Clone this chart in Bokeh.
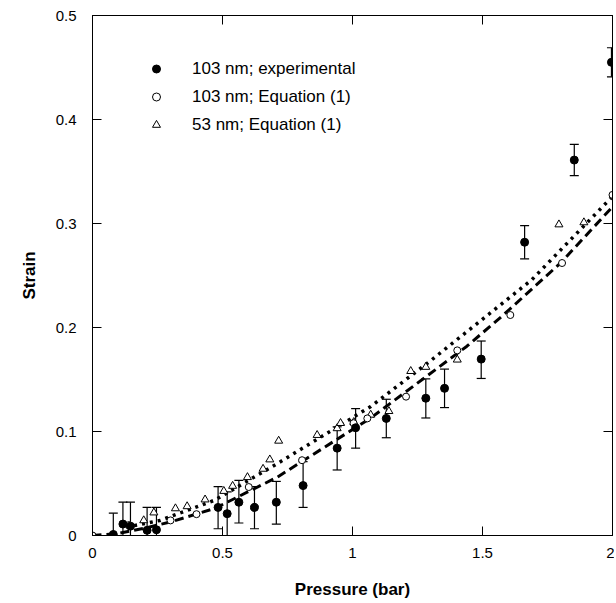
from bokeh.plotting import figure
from bokeh.models import (LinearAxis, FixedTicker, Whisker, ColumnDataSource,
                          Legend, LegendItem, Range1d, TeeHead)
from bokeh.embed import file_html
from bokeh.resources import INLINE

# ---- data ----
x_ticks = [0, 0.5, 1, 1.5, 2]
x_tick_labels = ["0", "0.5", "1", "1.5", "2"]
y_ticks = [0, 0.1, 0.2, 0.3, 0.4, 0.5]
y_tick_labels = ["0", "0.1", "0.2", "0.3", "0.4", "0.5"]

exp_x = [0.08, 0.117, 0.146, 0.21, 0.246, 0.483, 0.518, 0.563, 0.623, 0.707,
         0.81, 0.941, 1.012, 1.13, 1.282, 1.354, 1.495, 1.662, 1.853, 1.996]
exp_y = [0.001, 0.011, 0.009, 0.005, 0.0055, 0.027, 0.021, 0.032, 0.027, 0.032,
         0.048, 0.084, 0.1036, 0.1126, 0.132, 0.1415, 0.1696, 0.282, 0.361, 0.455]
exp_lo = [0.0, 0.0, 0.0, 0.0, 0.0, 0.0065, 0.0, 0.012, 0.0065, 0.011,
          0.027, 0.063, 0.084, 0.094, 0.113, 0.123, 0.151, 0.266, 0.346, 0.441]
exp_hi = [0.0215, 0.032, 0.032, 0.027, 0.027, 0.047, 0.042, 0.053, 0.047, 0.052,
          0.071, 0.1045, 0.122, 0.131, 0.1506, 0.16, 0.187, 0.298, 0.376, 0.469]

eq103_x = [0.0, 0.14, 0.30, 0.40, 0.601, 0.806, 1.004, 1.057, 1.206, 1.403,
           1.607, 1.806, 2.0]
eq103_y = [0.0, 0.010, 0.0145, 0.0205, 0.0466, 0.0724, 0.108, 0.1126, 0.1335,
           0.178, 0.212, 0.262, 0.3275]

eq53_x = [0.078, 0.197, 0.236, 0.319, 0.364, 0.433, 0.505, 0.539, 0.596, 0.656,
          0.682, 0.716, 0.864, 0.941, 0.954, 1.005, 1.07, 1.14, 1.224, 1.282,
          1.403, 1.794, 1.89]
eq53_y = [0.0, 0.0145, 0.022, 0.026, 0.028, 0.0345, 0.0427, 0.0476, 0.056, 0.064,
          0.073, 0.091, 0.0965, 0.103, 0.108, 0.109, 0.116, 0.1195, 0.158, 0.162,
          0.169, 0.299, 0.301]

dash_x = [0, 0.1, 0.2, 0.3, 0.47, 0.71, 1.07, 1.44, 1.58, 1.8, 2.0]
dash_y = [0, 0.002, 0.007, 0.013, 0.026, 0.056, 0.113, 0.182, 0.212, 0.262, 0.316]

dot_x = [0.13, 0.26, 0.47, 0.71, 1.07, 1.3, 1.44, 1.69, 2.0]
dot_y = [0.008, 0.0145, 0.034, 0.069, 0.124, 0.168, 0.196, 0.246, 0.326]

legend_labels = ["103 nm; experimental", "103 nm; Equation (1)", "53 nm; Equation (1)"]

FONT = "Liberation Sans"

p = figure(width=614, height=601, x_range=Range1d(0, 2), y_range=Range1d(0, 0.5),
           output_backend="svg", toolbar_location=None,
           min_border_left=92, min_border_right=2, min_border_top=15,
           min_border_bottom=66)
p.grid.visible = False
p.outline_line_color = "black"
p.background_fill_color = "white"
p.border_fill_color = "white"

def style_axis(ax, ticks, labels, standoff, show_labels=True):
    ax.ticker = FixedTicker(ticks=ticks)
    ax.major_tick_in = 9
    ax.major_tick_out = 0
    ax.minor_tick_line_color = None
    ax.axis_line_color = "black"
    ax.major_tick_line_color = "black"
    if show_labels:
        ax.major_label_overrides = {t: l for t, l in zip(ticks, labels)}
        ax.major_label_text_font = FONT
        ax.major_label_text_color = "black"
        ax.major_label_standoff = standoff
        ax.major_label_text_font_size = "15px"
    else:
        ax.major_label_text_color = None
        ax.major_label_text_font_size = "1px"
        ax.major_label_standoff = 0

xa = p.xaxis[0]
ya = p.yaxis[0]
style_axis(xa, x_ticks, x_tick_labels, 12)
style_axis(ya, y_ticks, y_tick_labels, 16)
xa.axis_label = "Pressure (bar)"
ya.axis_label = "Strain"
for ax, so in ((xa, 19), (ya, 14)):
    ax.axis_label_text_font = FONT
    ax.axis_label_text_font_style = "bold"
    ax.axis_label_text_font_size = "17px"
    ax.axis_label_text_color = "black"
    ax.axis_label_standoff = so

top_ax = LinearAxis()
style_axis(top_ax, x_ticks, x_tick_labels, 0, show_labels=False)
right_ax = LinearAxis()
style_axis(right_ax, y_ticks, y_tick_labels, 0, show_labels=False)
p.add_layout(top_ax, "above")
p.add_layout(right_ax, "right")

# curves
p.line(dash_x, dash_y, line_color="black", line_width=3, line_dash="9 5")
p.line(dot_x, dot_y, line_color="black", line_width=3.5, line_dash="3 5")

# error bars
src = ColumnDataSource(dict(x=exp_x, y=exp_y, lo=exp_lo, hi=exp_hi))
wh = Whisker(source=src, base="x", lower="lo", upper="hi", dimension="height",
             line_color="black", line_width=1.2,
             upper_head=TeeHead(size=9, line_color="black", line_width=1.2),
             lower_head=TeeHead(size=9, line_color="black", line_width=1.2))
p.add_layout(wh)

r53 = p.scatter(eq53_x, eq53_y, marker="triangle", size=8, fill_color="white",
                line_color="black", line_width=1)
r103 = p.scatter(eq103_x, eq103_y, marker="circle", size=7, fill_color="white",
                 line_color="black", line_width=1)
rexp = p.scatter(exp_x, exp_y, marker="circle", size=8, fill_color="black",
                 line_color="black", line_width=1)

legend = Legend(items=[LegendItem(label=legend_labels[0], renderers=[rexp]),
                       LegendItem(label=legend_labels[1], renderers=[r103]),
                       LegendItem(label=legend_labels[2], renderers=[r53])],
                location=(54, 400), margin=0, padding=0,
                glyph_width=20, glyph_height=21, label_height=21,
                spacing=7, label_standoff=26,
                label_text_font=FONT, label_text_font_size="17px",
                label_text_color="black",
                border_line_alpha=0, background_fill_alpha=0)
p.add_layout(legend, "center")

open("out.html", "w").write(file_html(p, INLINE))
